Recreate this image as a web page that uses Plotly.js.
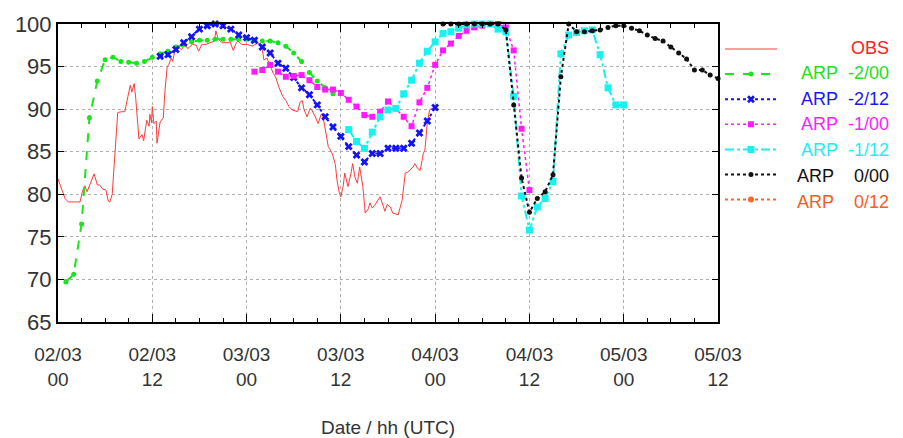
<!DOCTYPE html>
<html>
<head>
<meta charset="utf-8">
<script src="https://cdn.plot.ly/plotly-3.0.1.min.js"></script>
<style>html,body{margin:0;padding:0;background:#fff}#chart{width:903px;height:438px}</style>
</head>
<body>
<div id="chart"></div>
<script>
// Hours since 02/03 00 UTC
const obsHours = [0,0.5,0.9,1.3,1.8,2.3,2.8,3.1,3.4,3.7,4.1,4.6,5.0,5.3,5.7,6.1,6.4,6.6,6.9,7.1,7.4,7.6,8.1,8.5,8.9,9.2,9.4,9.7,9.9,10.2,10.3,10.7,10.9,11.3,11.6,11.7,11.9,12.0,12.2,12.5,12.6,13.0,13.4,13.6,13.9,14.1,14.4,14.6,14.9,15.3,15.7,16.2,16.5,17.1,17.6,17.9,18.3,18.8,19.3,19.9,20.1,20.4,20.9,21.5,21.9,22.3,22.7,22.9,23.4,24.1,24.7,25.5,26.0,26.2,26.6,27.0,27.4,27.7,28.1,28.6,29.0,29.4,29.8,30.5,30.8,31.1,31.3,31.7,32.1,32.3,32.7,33.1,33.5,33.7,34.1,34.4,34.9,35.3,35.5,35.8,36.0,36.3,36.5,36.9,37.3,37.5,37.8,38.1,38.4,38.8,39.1,39.5,39.7,40.0,40.3,40.7,41.0,41.4,41.6,41.9,42.3,42.6,43.0,43.3,43.8,44.2,44.5,44.8,45.2,45.4,45.8,46.1,46.5,46.7,47.0,47.3,47.6];
const obsValues = [81.8,80.5,79.5,79.1,79.1,79.1,79.1,80.3,81.0,80.3,81.3,82.4,81.1,81.1,80.6,80.5,79.2,79.1,80.0,83.0,87.0,89.6,89.7,89.7,91.5,92.8,92.0,93.0,91.2,88.0,86.5,87.0,86.3,88.7,88.0,89.4,88.4,90.3,88.3,88.6,86.0,88.5,89.0,92.0,95.0,95.2,96.0,95.6,97.0,97.3,97.0,97.6,97.1,97.6,97.5,96.8,97.6,97.6,97.8,98.0,99.2,98.2,97.8,97.8,97.9,96.9,97.8,98.0,97.6,97.6,97.4,97.8,97.0,95.8,96.0,95.0,94.2,93.8,92.6,91.5,91.0,90.3,89.9,89.7,90.8,91.0,90.0,89.1,90.1,89.9,89.2,88.3,89.4,89.3,87.0,85.6,84.8,83.5,81.7,80.2,79.7,81.0,82.5,80.9,82.5,83.6,82.0,81.3,83.2,80.9,77.8,78.3,79.0,78.4,78.7,79.2,79.7,78.6,78.0,78.8,78.5,77.8,77.7,77.6,79.3,82.5,82.6,82.9,83.2,83.6,83.0,82.8,84.8,85.2,88.4,89.9,90.2];

const arpM2_00Hours = [1,2,3,4,5,6,7,8,9,10,11,12,13,14,15,16,17,18,19,20,21,22,23,24,25,26,27,28,29,30,31,32,33,34,35];
const arpM2_00Values = [69.7,70.6,76.5,89.0,93.3,95.8,96.1,95.6,95.5,95.4,95.6,96.1,96.5,96.8,97.3,97.6,97.9,98.1,98.1,98.2,98.2,98.2,98.2,98.2,98.1,98.0,98.0,97.8,97.4,96.6,95.6,94.3,93.3,92.5,91.8];

const arpM2_12Hours = [13,14,15,16,17,18,19,20,21,22,23,24,25,26,27,28,29,30,31,32,33,34,35,36,37,38,39,40,41,42,43,44,45,46,47,48];
const arpM2_12Values = [96.2,96.4,97.0,97.8,98.5,99.4,99.8,100.0,99.8,99.4,98.7,98.4,98.1,97.3,96.6,95.4,94.8,93.7,92.5,91.7,90.5,89.1,87.9,86.8,85.6,84.6,83.8,84.8,84.8,85.4,85.4,85.4,86.0,87.2,88.6,90.2];

const arpM1_00Hours = [25,26,27,28,29,30,31,32,33,34,35,36,37,38,39,40,41,42,43,44,45,46,47,48,49,50,51,52,53,54,55,56,57,58,59,60];
const arpM1_00Values = [94.4,94.6,95.2,94.4,93.8,93.9,94.0,93.4,92.6,92.3,92.3,91.9,91.1,90.3,89.3,89.1,89.7,90.9,90.1,89.1,88.0,90.8,92.5,95.2,96.9,97.7,98.6,99.2,99.6,99.8,100.0,100.0,99.6,96.9,87.7,80.5];

const arpM1_12Hours = [37,38,39,40,41,42,43,44,45,46,47,48,49,50,51,52,53,54,55,56,57,58,59,60,61,62,63,64,65,66,67,68,69,70,71,72];
const arpM1_12Values = [87.6,86.2,85.4,87.3,89.1,89.9,90.1,91.8,93.4,95.4,96.8,97.9,98.9,99.1,99.5,99.9,100.0,100.0,100.0,99.4,99.1,91.5,79.8,75.8,78.5,79.5,81.5,96.5,98.7,99.0,99.2,99.3,96.4,92.5,90.5,90.5];

const arp0_00Hours = [49,50,51,52,53,54,55,56,57,58,59,60,61,62,63,64,65,66,67,68,69,70,71,72,73,74,75,76,77,78,79,80,81,82,83,84];
const arp0_00Values = [100,100,100,100,100,100,100,100,99.3,90.5,81.9,77.9,79.5,80.3,82.3,93.8,100.0,99.1,99.1,99.2,99.3,99.6,99.8,99.8,99.5,99.2,98.7,98.3,98.0,97.3,96.6,95.9,94.6,94.6,94.0,93.6];

// No 0/12 values are visible in the plotted window (kept as a gap so the legend entry remains)
const arp0_12Hours = [null];
const arp0_12Values = [null];

const seriesNames = ['OBS','ARP -2/00','ARP -2/12','ARP -1/00','ARP -1/12','ARP 0/00','ARP 0/12'];
const legendLabels = ['OBS','ARP\u00a0\u00a0-2/00','ARP\u00a0\u00a0-2/12','ARP\u00a0\u00a0-1/00','ARP\u00a0\u00a0-1/12','ARP\u00a0\u00a0\u00a0\u00a00/00','ARP\u00a0\u00a0\u00a0\u00a00/12'];
const tickHours = [0,12,24,36,48,60,72,84];
const tickDates = ['02/03','02/03','03/03','03/03','04/03','04/03','05/03','05/03'];
const tickHourLabels = ['00','12','00','12','00','12','00','12'];
const yTicks = [65,70,75,80,85,90,95,100];

const colors = ['#ff3b3b','#19e619','#1414f0','#ff19ff','#19f0f0','#111111','#ff6420'];
const textColors = ['#ff2020','#22e022','#1a1aee','#ff22ff','#22eeee','#111111','#ff5a1e'];

const xs = [obsHours, arpM2_00Hours, arpM2_12Hours, arpM1_00Hours, arpM1_12Hours, arp0_00Hours, arp0_12Hours];
const ys = [obsValues, arpM2_00Values, arpM2_12Values, arpM1_00Values, arpM1_12Values, arp0_00Values, arp0_12Values];
const styles = [
  {mode:'lines', line:{width:1, dash:'solid'}},
  {mode:'lines+markers', line:{width:2, dash:'dash'}, marker:{symbol:'circle', size:5}},
  {mode:'lines+markers', line:{width:2, dash:'dot'}, marker:{symbol:'x', size:7}},
  {mode:'lines+markers', line:{width:1.5, dash:'dot'}, marker:{symbol:'square', size:6}},
  {mode:'lines+markers', line:{width:2, dash:'dashdot'}, marker:{symbol:'square', size:7}},
  {mode:'lines+markers', line:{width:2, dash:'dot'}, marker:{symbol:'circle', size:5}},
  {mode:'lines+markers', line:{width:2, dash:'dot'}, marker:{symbol:'circle', size:6}}
];

const traces = seriesNames.map((n, i) => {
  const s = styles[i];
  const t = {
    type:'scatter', x: xs[i], y: ys[i], name: '\u00a0', mode: s.mode,
    line: Object.assign({color: colors[i]}, s.line),
    cliponaxis: false, hovertemplate: n + ': %{y}<extra></extra>'
  };
  if (s.marker) t.marker = Object.assign({color: colors[i]}, s.marker);
  return t;
});
// the (empty) 0/12 series sits on the overlaid hour axis so that axis gets drawn
traces[6].xaxis = 'x2';

const legendY = [48,73,99,124,150,176,202];
const plotTop = 24, plotBottom = 322, plotLeft = 58, plotRight = 718;
const annotations = legendLabels.map((lab, i) => ({
  xref:'paper', yref:'paper',
  x: (891 - plotLeft) / (plotRight - plotLeft),
  y: (plotBottom - legendY[i]) / (plotBottom - plotTop),
  xanchor:'right', yanchor:'middle', showarrow:false,
  text: lab,
  font:{family:'"Liberation Sans", Arial, sans-serif', size:18, color: textColors[i]}
}));

const axisFont = {family:'"Liberation Sans", Arial, sans-serif', size:19, color:'#333'};

const layout = {
  width:903, height:438,
  margin:{l:plotLeft, r:903-plotRight, t:plotTop, b:438-plotBottom, pad:0},
  paper_bgcolor:'#fff', plot_bgcolor:'#fff',
  showlegend:true,
  legend:{x:1.003, xanchor:'left', y:0.975, yanchor:'top', bgcolor:'rgba(0,0,0,0)', borderwidth:0,
    font:{size:17, family:'"Liberation Sans", Arial, sans-serif'}, itemwidth:52, tracegroupgap:0, traceorder:'normal'},
  xaxis:{
    range:[0,84], tickmode:'array', tickvals:tickHours, ticktext:tickDates,
    ticks:'inside', ticklen:8, tickwidth:1, tickcolor:'#000',
    minor:{dtick:3, tick0:0, ticks:'inside', ticklen:4, tickcolor:'#000', showgrid:false},
    showline:true, linecolor:'#000', linewidth:2, mirror:'ticks',
    showgrid:true, gridcolor:'#b0b0b0', griddash:'dot', gridwidth:1,
    zeroline:false, tickfont:axisFont, automargin:false, ticklabelstandoff:14
  },
  xaxis2:{
    overlaying:'x', anchor:'y', side:'bottom',
    range:[0,84], tickmode:'array', tickvals:tickHours, ticktext:tickHourLabels,
    ticks:'', showline:false, showgrid:false, zeroline:false,
    tickfont:axisFont, automargin:false, ticklabelstandoff:44,
    title:{text:'Date / hh (UTC)', font:{family:'"Liberation Sans", Arial, sans-serif', size:19, color:'#333'}, standoff:32}
  },
  yaxis:{
    range:[65,100], tickmode:'array', tickvals:yTicks,
    ticks:'inside', ticklen:6, tickwidth:1, tickcolor:'#000',
    showline:true, linecolor:'#000', linewidth:2, mirror:'ticks',
    showgrid:true, gridcolor:'#b0b0b0', griddash:'dot', gridwidth:1,
    zeroline:false, automargin:false,
    tickfont:{family:'"Liberation Sans", Arial, sans-serif', size:22, color:'#333'}
  },
  annotations: annotations
};

Plotly.newPlot('chart', traces, layout, {displayModeBar:false, staticPlot:true});
</script>
</body>
</html>
